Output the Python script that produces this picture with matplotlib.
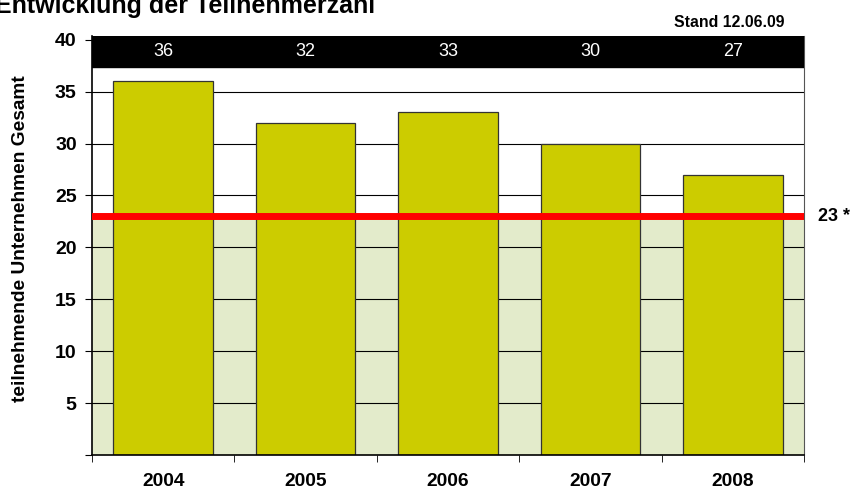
import matplotlib.pyplot as plt
import numpy as np

plt.rcParams['font.family'] = ['Liberation Sans', 'DejaVu Sans']

years = ["2004", "2005", "2006", "2007", "2008"]
participants = [36, 32, 33, 30, 27]
reference_value = 23

x = np.arange(len(years))

fig = plt.figure(figsize=(8.54, 4.91), dpi=100)
ax = fig.add_axes([0.1077, 0.0733, 0.8338, 0.8534])

ax.set_xlim(-0.5, len(years) - 0.5)
ax.set_ylim(0, 40.36)

# light green area below reference line
ax.axhspan(0, reference_value, color="#e3ebcb", zorder=0)
for yv in range(5, 40, 5):
    ax.axhline(yv, color="black", linewidth=0.8, zorder=1)

ax.bar(x, participants, 0.7, color="#cccc00", edgecolor="#333333",
       linewidth=0.9, zorder=2)

ax.axhline(reference_value, color="#ff0000", linewidth=5, zorder=3)

# black header band with values
ax.axhspan(37.4, 40.36, color="black", zorder=4)
for xi, val in zip(x, participants):
    ax.text(xi, 38.85, str(val), color="white", ha="center", va="center",
            fontsize=13, zorder=5)

ax.set_yticks(range(0, 41, 5))
ax.set_yticklabels([""] + [str(v) for v in range(5, 41, 5)],
                   fontweight="bold", fontsize=14)
ax.set_xticks(x)
ax.set_xticklabels(years, fontweight="bold", fontsize=13.8)
ax.set_xticks(np.arange(-0.5, len(years), 1), minor=True)
ax.tick_params(axis="x", which="major", length=0, pad=13)
ax.tick_params(axis="x", which="minor", length=5, direction="out")
ax.tick_params(axis="y", length=5, direction="out", pad=6)

ax.spines["top"].set_visible(False)
ax.spines["right"].set_color("#555555")
ax.spines["left"].set_linewidth(1.2)
ax.spines["bottom"].set_linewidth(1.2)

fig.text(21 / 854, 0.515, "teilnehmende Unternehmen Gesamt", rotation=90,
         ha="center", va="center", fontweight="bold", fontsize=13.8)

ax.text(1.02, reference_value, "23 *", transform=ax.get_yaxis_transform(),
        ha="left", va="center", fontweight="bold", fontsize=13)

fig.text(0.919, 0.955, "Stand 12.06.09", ha="right", va="center",
         fontweight="bold", fontsize=11.4)
fig.text(-0.006, 0.9745, "Entwicklung der Teilnehmerzahl", ha="left",
         va="baseline", fontweight="bold", fontsize=18)

plt.savefig("out.png", dpi=100)
